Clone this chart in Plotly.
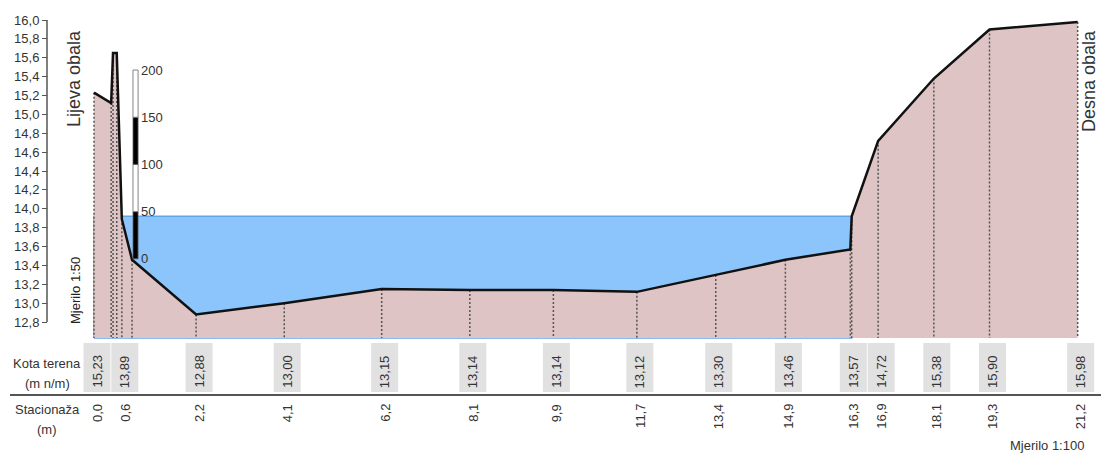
"""
Poprecni profil korita - Plotly rekonstrukcija.
"""

import plotly.graph_objects as go

# --- data -------------------------------------------------------------
stacionaza = [0.0, 0.37, 0.41, 0.49, 0.6, 0.82, 2.2, 4.1, 6.2, 8.1, 9.9,
              11.7, 13.4, 14.9, 16.3, 16.33, 16.9, 18.1, 19.3, 21.2]
kota_terena = [15.23, 15.12, 15.65, 15.65, 13.89, 13.46, 12.88, 13.00, 13.15,
               13.14, 13.14, 13.12, 13.30, 13.46, 13.57, 13.92, 14.72, 15.38,
               15.90, 15.98]
# which points get a label in the table (the rest overlap and are hidden)
oznaceno = [True, False, False, False, True, False, True, True, True, True, True,
            True, True, True, True, False, True, True, True, True]

vodostaj = 13.92
voda_od, voda_do = 0.0, 16.33

letva_cm = [0, 50, 100, 150, 200]
letva_nula = 13.47
letva_sta = (0.84, 0.95)

y_ticks = [12.8, 13.0, 13.2, 13.4, 13.6, 13.8, 14.0, 14.2, 14.4, 14.6, 14.8,
           15.0, 15.2, 15.4, 15.6, 15.8, 16.0]

# --- page geometry -----------------------------------------------------
W, H = 1101, 453
X0_PX, PX_PER_M_X = 94, 46.4      # station 0 at px 94
Y16_PX, PX_PER_M_Y = 20, 94.4     # elevation 16.0 at px 20
PLOT_BOTTOM_PX = 338

x_range = [-X0_PX / PX_PER_M_X, (W - X0_PX) / PX_PER_M_X]
y_range = [16 - (H - Y16_PX) / PX_PER_M_Y, 16 + Y16_PX / PX_PER_M_Y]
dno = 16 - (PLOT_BOTTOM_PX - Y16_PX) / PX_PER_M_Y

FONT = "Liberation Sans, Arial, sans-serif"
TXT = "#333333"
PINK = "rgb(222,196,196)"
BLUE = "rgb(140,196,252)"


def px(x):
    return x / W


def py(y):
    return 1 - y / H


def comma(v, nd):
    return f"{v:.{nd}f}".replace(".", ",")


fig = go.Figure()

# water
fig.add_trace(go.Scatter(
    x=[voda_od, voda_do, voda_do, voda_od, voda_od],
    y=[dno, dno, vodostaj, vodostaj, dno],
    fill="toself", fillcolor=BLUE, mode="lines",
    line=dict(color="rgb(100,165,235)", width=1.5), hoverinfo="skip"))

# terrain fill
fig.add_trace(go.Scatter(
    x=[stacionaza[0]] + stacionaza + [stacionaza[-1], stacionaza[0]],
    y=[dno] + kota_terena + [dno, dno],
    fill="toself", fillcolor=PINK, mode="lines",
    line=dict(width=0), hoverinfo="skip"))

# dotted verticals
vx, vy = [], []
for s, k in zip(stacionaza, kota_terena):
    vx += [s, s, None]
    vy += [k, dno, None]
fig.add_trace(go.Scatter(x=vx, y=vy, mode="lines",
                         line=dict(color="#555555", width=1.5, dash="2px,2px"),
                         hoverinfo="skip"))

# terrain line
fig.add_trace(go.Scatter(x=stacionaza, y=kota_terena, mode="lines",
                         line=dict(color="#111111", width=2.5),
                         hoverinfo="skip"))

shapes = []
annotations = []

# water gauge
for i in range(len(letva_cm) - 1):
    shapes.append(dict(
        type="rect", xref="x", yref="y",
        x0=letva_sta[0], x1=letva_sta[1],
        y0=letva_nula + letva_cm[i] / 100, y1=letva_nula + letva_cm[i + 1] / 100,
        fillcolor="black" if i % 2 == 0 else "white",
        line=dict(color="#666666", width=0.8)))
for c in letva_cm:
    annotations.append(dict(
        x=letva_sta[1], y=letva_nula + c / 100, xref="x", yref="y",
        text=str(c), showarrow=False, xanchor="left", yanchor="middle",
        xshift=1, font=dict(size=13, color=TXT)))

# y axis line (only over the tick span)
shapes.append(dict(type="line", xref="paper", yref="y",
                   x0=px(47), x1=px(47), y0=y_ticks[0], y1=y_ticks[-1],
                   line=dict(color="#555555", width=1.5)))

# table: separator
shapes.append(dict(type="line", xref="paper", yref="paper",
                   x0=px(10), x1=1, y0=py(395), y1=py(395),
                   line=dict(color="#555555", width=2)))

box_half = 13.5 / PX_PER_M_X
box_off = 3 / PX_PER_M_X
for s, k, lab in zip(stacionaza, kota_terena, oznaceno):
    if not lab:
        continue
    c = s + box_off
    shapes.append(dict(type="rect", xref="x", yref="paper",
                       x0=c - box_half, x1=c + box_half,
                       y0=py(392), y1=py(343), layer="below",
                       fillcolor="#e1e1e1", line=dict(width=0)))
    annotations.append(dict(x=c, y=py(390), xref="x", yref="paper",
                            text=comma(k, 2), textangle=-90, showarrow=False,
                            xanchor="center", yanchor="bottom",
                            font=dict(size=13, color=TXT)))
    annotations.append(dict(x=c, y=py(402), xref="x", yref="paper",
                            text=comma(s, 1), textangle=-90, showarrow=False,
                            xanchor="center", yanchor="top",
                            font=dict(size=13, color=TXT)))

# row headers
for txt, y in [("Kota terena", 363), ("(m n/m)", 383),
               ("Stacionaža", 409), ("(m)", 429)]:
    annotations.append(dict(x=px(47), y=py(y), xref="paper", yref="paper",
                            text=txt, showarrow=False, xanchor="center",
                            yanchor="middle", font=dict(size=13, color=TXT)))

# bank labels & scales
annotations += [
    dict(x=px(74), y=py(78), text="Lijeva obala", font=dict(size=18, color=TXT)),
    dict(x=px(1089), y=py(81), text="Desna obala", font=dict(size=18, color=TXT)),
    dict(x=px(75), y=py(291), text="Mjerilo 1:50",
         font=dict(size=13, color="#222222")),
]
for a in annotations[-3:]:
    a.update(xref="paper", yref="paper", textangle=-90, showarrow=False,
             xanchor="center", yanchor="middle")
annotations.append(dict(x=px(1086), y=py(445), xref="paper", yref="paper",
                        text="Mjerilo 1:100", showarrow=False,
                        xanchor="right", yanchor="middle",
                        font=dict(size=13, color=TXT)))

fig.update_layout(
    width=W, height=H,
    margin=dict(l=0, r=0, t=0, b=0),
    paper_bgcolor="white", plot_bgcolor="white",
    showlegend=False,
    font=dict(family=FONT, color=TXT),
    shapes=shapes, annotations=annotations,
    xaxis=dict(range=x_range, visible=False, fixedrange=True),
    yaxis=dict(range=y_range, anchor="free", position=px(47),
               tickvals=y_ticks, ticktext=[comma(t, 1) for t in y_ticks],
               ticks="outside", ticklen=5, tickcolor="#555555",
               tickfont=dict(size=13, color=TXT),
               showgrid=False, zeroline=False, showline=False,
               fixedrange=True),
)

# the page's default body margin would push the figure off by 8px
fig.write_html("out.html", config={"displayModeBar": False},
               post_script="document.body.style.margin='0';"
                           "document.body.style.overflow='hidden';")
